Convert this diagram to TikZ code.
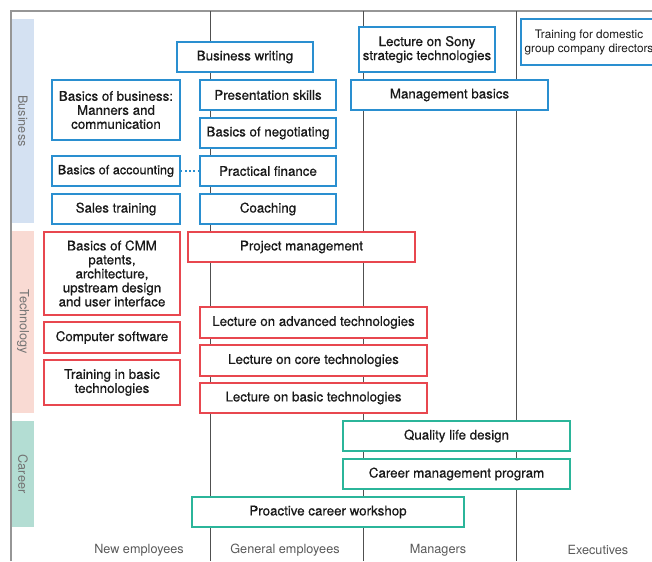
\documentclass[tikz,border=0pt]{standalone}
\usepackage{fontspec}
\setmainfont{TeX Gyre Heros}
\newfontfamily\boxfont[FakeBold=0.6]{TeX Gyre Heros}
\usepackage{tikz}
\usetikzlibrary{positioning}
\definecolor{bizblue}{RGB}{42,143,208}
\definecolor{techred}{RGB}{232,71,79}
\definecolor{careerteal}{RGB}{43,181,154}
\definecolor{bizband}{RGB}{212,225,242}
\definecolor{techband}{RGB}{249,218,211}
\definecolor{careerband}{RGB}{179,221,211}
\definecolor{framegray}{RGB}{150,150,150}
\definecolor{divgray}{RGB}{80,80,80}
\tikzset{every picture/.style={line width=0.75pt}}
\tikzset{
  course/.style 2 args={draw, fill=white, line width=1pt, align=center, inner sep=1pt,
    font=\boxfont\fontsize{10}{10.5}\selectfont, text=black!90,
    minimum width=#1*0.75pt, minimum height=#2*0.75pt},
  bizbox/.style={draw=bizblue},
  techbox/.style={draw=techred},
  careerbox/.style={draw=careerteal},
  bandlabel/.style={rotate=-90, font=\fontsize{9.5}{10.5}\selectfont, text=black!55},
  levellabel/.style={font=\fontsize{9.5}{10.5}\selectfont, text=black!65}
}

\begin{document}
\begin{tikzpicture}[x=0.75pt,y=0.75pt,yscale=-1,xscale=1]
\useasboundingbox (0,0) rectangle (652,561);

%Shape: category bands
\fill[bizband] (12,19) rectangle (34,223);
\fill[techband] (12,231) rectangle (34,413);
\fill[careerband] (12,421) rectangle (34,527);
\node[bandlabel] (bizband) at (23,121) {Business};
\node[bandlabel] (techband) at (23,322) {Technology};
\node[bandlabel] (careerband) at (23,474) {Career};

%Straight Lines: frame and level dividers
\draw[framegray, line width=1pt] (11,561) -- (11,11) -- (652,11);
\draw[divgray] (210,11) -- (210,561);
\draw[divgray] (363,11) -- (363,561);
\draw[divgray] (516,11) -- (516,561);

% Business courses
\node[course={136}{30}, bizbox] (bizwriting) at (245,57) {Business writing};
\node[course={128}{60}, bizbox] (bizbasics) at (116,110) {Basics of business:\\Manners and\\communication};
\node[course={136}{30}, bizbox] (presentation) at (268,95) {Presentation skills};
\node[course={136}{30}, bizbox] (negotiating) at (268,133) {Basics of negotiating};
\node[course={128}{30}, bizbox] (accounting) at (116,171) {\fontsize{9.5}{10.5}\selectfont Basics of accounting};
\node[course={136}{30}, bizbox] (finance) at (268,171) {Practical finance};
\node[course={128}{30}, bizbox] (sales) at (116,209) {Sales training};
\node[course={136}{30}, bizbox] (coaching) at (268,209) {Coaching};
\node[course={136}{45}, bizbox] (sonylecture) at (427,49.5) {Lecture on Sony\\strategic technologies};
\node[course={197}{30}, bizbox] (mgmtbasics) at (449.5,95) {Management basics};
\node[course={136}{46}, bizbox, font=\fontsize{8.8}{10.5}\selectfont] (directors) at (589,42) {Training for domestic\\group company directors};
\draw[bizblue, dotted, line width=1.2pt] (accounting.east) -- (finance.west);

% Technology courses
\node[course={136}{83}, techbox] (cmm) at (112,273.5) {Basics of CMM\\patents,\\architecture,\\upstream design\\and user interface};
\node[course={227}{30}, techbox] (projmgmt) at (301.5,247) {Project management};
\node[course={136}{31}, techbox] (software) at (112,337.5) {Computer software};
\node[course={136}{45}, techbox] (basictraining) at (112,382.5) {Training in basic\\technologies};
\node[course={227}{31}, techbox] (advanced) at (313.5,322.5) {Lecture on advanced technologies};
\node[course={227}{31}, techbox] (core) at (313.5,360.5) {Lecture on core technologies};
\node[course={227}{30}, techbox] (basiclecture) at (313.5,398) {Lecture on basic technologies};

% Career courses
\node[course={227}{30}, careerbox] (qualitylife) at (456.5,436) {Quality life design};
\node[course={227}{30}, careerbox] (careermgmt) at (456.5,474) {Career management program};
\node[course={272}{30}, careerbox] (workshop) at (328,512) {Proactive career workshop};

% Text Node: levels
\node[levellabel] (newemp) at (139,550) {New employees};
\node[levellabel] (genemp) at (285,550) {General employees};
\node[levellabel] (managers) at (438,550) {Managers};
\node[levellabel] (executives) at (598,550) {Executives};

\end{tikzpicture}
\end{document}
